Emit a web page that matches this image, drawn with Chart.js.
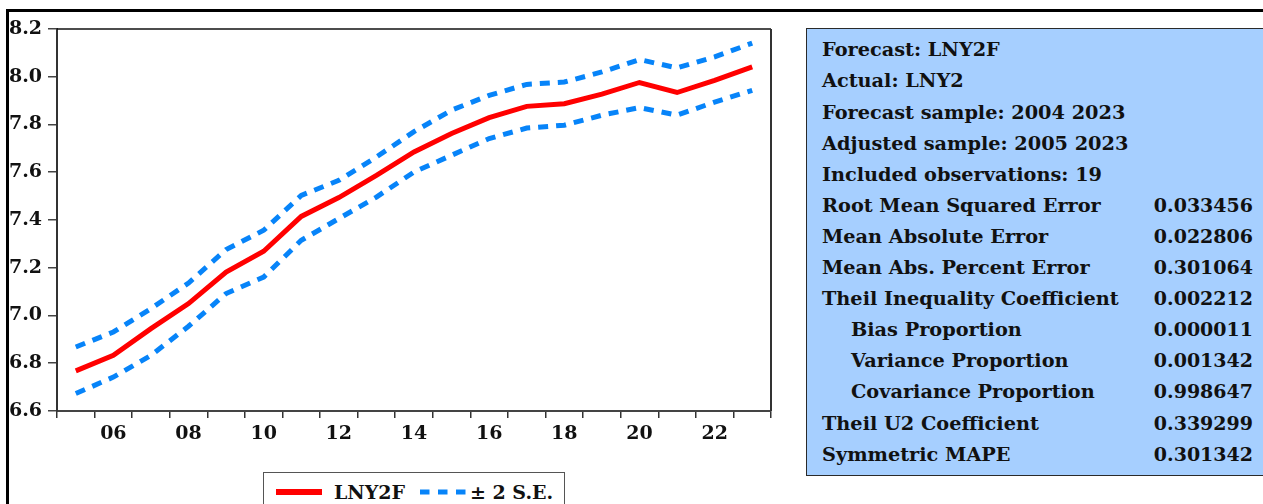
<!DOCTYPE html>
<html>
<head>
<meta charset="utf-8">
<script src="https://cdn.jsdelivr.net/npm/chart.js@4.4.1/dist/chart.umd.min.js"></script>
<style>
  html, body { margin: 0; padding: 0; background: #fff; width: 1263px; height: 504px; overflow: hidden; }
  body { position: relative; font-family: 'DejaVu Serif', serif; font-weight: bold; }
  #frame { position: absolute; left: 6px; top: 9px; width: 1300px; height: 520px; border-top: 3px solid #000; border-left: 3px solid #000; }
  #chartWrap { position: absolute; left: 0; top: 0; width: 790px; height: 460px; }
  #stats { position: absolute; left: 806px; top: 28px; width: 480px; height: 448px; background: #A6CFFF; border: 1px solid #2a2a2a; box-sizing: border-box; }
  #stats .rows { position: absolute; left: 15px; top: 5.4px; width: 431px; }
  #stats .row { display: flex; justify-content: space-between; font-size: 19px; line-height: 31.1px; height: 31.1px; color: #111; white-space: nowrap; }
  #stats .row .lab { font-size: 19.3px; }
  #stats .row.ind .lab { padding-left: 29px; }
  #legend { position: absolute; left: 263px; top: 472px; width: 302px; height: 45px; border: 1px solid #555; box-sizing: border-box; }
  #legend .item { position: absolute; top: 0; height: 38px; display: flex; align-items: center; font-size: 19px; color: #111; white-space: nowrap; }
</style>
</head>
<body>
<div id="frame"></div>
<div id="chartWrap"><canvas id="c" width="790" height="460"></canvas></div>
<div id="stats"><div class="rows" id="statRows"></div></div>
<div id="legend"></div>
<script>
// ---- data ----
const categories = ['2005','2006','2007','2008','2009','2010','2011','2012','2013','2014','2015','2016','2017','2018','2019','2020','2021','2022','2023'];
const xTickLabels = ['', '06', '', '08', '', '10', '', '12', '', '14', '', '16', '', '18', '', '20', '', '22', ''];
const forecastLNY2F = [6.768, 6.833, 6.945, 7.050, 7.182, 7.269, 7.415, 7.494, 7.587, 7.685, 7.762, 7.829, 7.876, 7.887, 7.927, 7.976, 7.934, 7.985, 8.041];
const upperBand = [6.868, 6.931, 7.029, 7.136, 7.276, 7.357, 7.503, 7.566, 7.664, 7.770, 7.860, 7.922, 7.968, 7.978, 8.020, 8.072, 8.037, 8.083, 8.141];
const lowerBand = [6.673, 6.742, 6.833, 6.955, 7.092, 7.161, 7.315, 7.406, 7.496, 7.601, 7.671, 7.741, 7.785, 7.797, 7.839, 7.871, 7.839, 7.894, 7.943];
const yMin = 6.6, yMax = 8.2, yStep = 0.2;
const seriesNames = ['LNY2F', '± 2 S.E.'];
const statLabels = ['Forecast: LNY2F', 'Actual: LNY2', 'Forecast sample: 2004 2023', 'Adjusted sample: 2005 2023', 'Included observations: 19',
  'Root Mean Squared Error', 'Mean Absolute Error', 'Mean Abs. Percent Error', 'Theil Inequality Coefficient',
  'Bias Proportion', 'Variance Proportion', 'Covariance Proportion', 'Theil U2 Coefficient', 'Symmetric MAPE'];
const statValues = ['', '', '', '', '', '0.033456', '0.022806', '0.301064', '0.002212', '0.000011', '0.001342', '0.998647', '0.339299', '0.301342'];
const statIndented = [false, false, false, false, false, false, false, false, false, true, true, true, false, false];

// ---- styles ----
const RED = '#FF0000';
const BLUE = '#0784F9';
const DASH = [10, 8];
const tickFont = { family: "'DejaVu Serif', serif", weight: 'bold', size: 19 };

const plotFrame = {
  id: 'plotFrame',
  afterDraw(chart) {
    const { ctx, chartArea: { left, top, right, bottom } } = chart;
    ctx.save();
    ctx.strokeStyle = '#111';
    ctx.lineWidth = 1.5;
    ctx.beginPath(); ctx.moveTo(left, top); ctx.lineTo(right, top); ctx.stroke();
    ctx.strokeStyle = '#333';
    ctx.lineWidth = 2;
    ctx.beginPath(); ctx.moveTo(right, top); ctx.lineTo(right, bottom); ctx.stroke();
    ctx.restore();
  }
};

const chart = new Chart(document.getElementById('c'), {
  type: 'line',
  data: {
    labels: categories,
    datasets: [
      { label: seriesNames[0], data: forecastLNY2F, borderColor: RED, backgroundColor: RED, borderWidth: 5, pointRadius: 0, tension: 0, order: 1 },
      { label: seriesNames[1], data: upperBand, borderColor: BLUE, backgroundColor: BLUE, borderWidth: 5, borderDash: DASH, borderCapStyle: 'butt', pointRadius: 0, tension: 0, order: 2 },
      { label: seriesNames[1], data: lowerBand, borderColor: BLUE, backgroundColor: BLUE, borderWidth: 5, borderDash: DASH, borderCapStyle: 'butt', pointRadius: 0, tension: 0, order: 2 }
    ]
  },
  options: {
    responsive: false,
    animation: false,
    devicePixelRatio: 1,
    layout: { padding: { left: 9, top: 29, right: 19, bottom: 0 } },
    plugins: { legend: { display: false }, tooltip: { enabled: false } },
    scales: {
      x: {
        type: 'category',
        offset: true,
        grid: { offset: true, drawOnChartArea: false, drawTicks: true, tickLength: 7, color: '#333', lineWidth: 1.5 },
        border: { display: true, color: '#444', width: 2 },
        ticks: {
          autoSkip: false, maxRotation: 0, minRotation: 0, padding: 5, color: '#111', font: tickFont,
          callback: (v, i) => xTickLabels[i]
        },
        afterFit: (s) => { s.height = 49; }
      },
      y: {
        min: yMin, max: yMax,
        grid: { drawOnChartArea: false, drawTicks: true, tickLength: 9, color: '#444', lineWidth: 1.5 },
        border: { display: true, color: '#333', width: 2 },
        ticks: { stepSize: yStep, crossAlign: 'far', padding: 0, color: '#111', font: tickFont,
          callback: (v) => Number(v).toFixed(1) },
        afterFit: (s) => { s.width = 48; }
      }
    }
  },
  plugins: [plotFrame]
});

// ---- stats box ----
const rowsEl = document.getElementById('statRows');
statLabels.forEach((lab, i) => {
  const r = document.createElement('div');
  r.className = 'row' + (statIndented[i] ? ' ind' : '');
  const a = document.createElement('span'); a.className = 'lab'; a.textContent = lab;
  const b = document.createElement('span'); b.className = 'val'; b.textContent = statValues[i];
  r.appendChild(a); r.appendChild(b);
  rowsEl.appendChild(r);
});

// ---- legend ----
const legendEl = document.getElementById('legend');
const legendItems = [
  { text: seriesNames[0], color: RED, dash: null, left: 12, gap: 12 },
  { text: seriesNames[1], color: BLUE, dash: '9.5 8.5', left: 156, gap: 4 }
];
legendItems.forEach(it => {
  const d = document.createElement('div');
  d.className = 'item';
  d.style.left = it.left + 'px';
  const ns = 'http://www.w3.org/2000/svg';
  const svg = document.createElementNS(ns, 'svg');
  svg.setAttribute('width', '46'); svg.setAttribute('height', '10');
  svg.style.marginRight = it.gap + 'px';
  const ln = document.createElementNS(ns, 'line');
  ln.setAttribute('x1', '0'); ln.setAttribute('y1', '5'); ln.setAttribute('x2', '46'); ln.setAttribute('y2', '5');
  ln.setAttribute('stroke', it.color); ln.setAttribute('stroke-width', it.dash ? '5' : '6');
  if (it.dash) ln.setAttribute('stroke-dasharray', it.dash);
  svg.appendChild(ln);
  const t = document.createElement('span'); t.textContent = it.text;
  d.appendChild(svg); d.appendChild(t);
  legendEl.appendChild(d);
});
</script>
</body>
</html>
